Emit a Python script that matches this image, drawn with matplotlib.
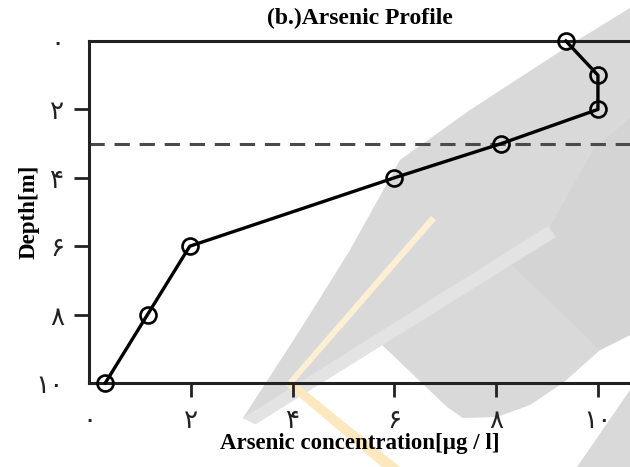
import numpy as np
import matplotlib
matplotlib.use('Agg')
import matplotlib.pyplot as plt
from matplotlib.patches import Polygon

# data
depth = [0, 1, 2, 3, 4, 6, 8, 10]
arsenic = [9.37, 10.0, 10.0, 8.1, 6.0, 1.98, 1.15, 0.32]
limit_depth = 3
x_ticks = [0, 2, 4, 6, 8, 10]
y_ticks = [0, 2, 4, 6, 8, 10]
fa_digits = ['۰', '۲', '۴', '۶', '۸', '۱۰']

W, H = 630, 467
fig = plt.figure(figsize=(W / 100, H / 100), dpi=100)

def px(pts):
    return [(x / W, 1 - y / H) for x, y in pts]

# watermark behind the chart
wm = [
    ([(243, 418), (300, 330), (350, 250), (400, 160), (470, 110), (573, 43), (630, 8),
      (630, 335), (600, 350), (563, 383), (530, 405), (497, 417), (463, 418),
      (447, 407), (380, 343), (255, 424)], '#d9d9d9'),
    ([(550, 227), (593, 150), (630, 118), (630, 335), (600, 350), (510, 263)], '#d4d4d4'),
    ([(548, 226), (556, 237), (256, 424), (243, 418)], '#e3e3e3'),
    ([(577, 467), (630, 390), (630, 467)], '#d9d9d9'),
    ([(431, 216), (436, 220), (293, 384), (288, 381)], '#fcefd4'),
    ([(285, 385), (296, 383), (400, 467), (382, 467)], '#fbe8bf'),
]
for pts, c in wm:
    fig.add_artist(Polygon(px(pts), closed=True, transform=fig.transFigure,
                           facecolor=c, edgecolor='none', zorder=-5))

ax = fig.add_axes([89 / W, 1 - 383 / H, 1 - 89 / W, (383 - 41) / H])
ax.set_facecolor('none')

ax.plot(arsenic, depth, color='black', lw=2.4, marker='o', markersize=11.5,
        markerfacecolor='none', markeredgecolor='black', markeredgewidth=1.9,
        clip_on=False, zorder=3)
ax.axhline(limit_depth, color='#4a4a4a', lw=2.2, dashes=(5, 3.2), zorder=2)

ax.set_xlim(0, 10.63)
ax.set_ylim(10, 0)

ax.set_xticks(x_ticks)
ax.set_xticklabels(fa_digits, family=['DejaVu Sans'], fontsize=19)
ax.set_yticks(y_ticks)
ax.set_yticklabels(fa_digits, family=['DejaVu Sans'], fontsize=19)
ax.tick_params(axis='x', direction='out', length=10, width=2, pad=8, colors='#222222')
ax.tick_params(axis='y', direction='out', length=11, width=2, pad=7, colors='#222222')
ax.xaxis.get_major_ticks()[0].tick1line.set_visible(False)
ax.yaxis.get_major_ticks()[0].tick1line.set_visible(False)
ax.yaxis.get_major_ticks()[-1].tick1line.set_visible(False)

for s in ['left', 'top', 'bottom']:
    ax.spines[s].set_linewidth(2.2)
    ax.spines[s].set_color('#222222')
ax.spines['right'].set_visible(False)

serif = ['Liberation Serif', 'DejaVu Serif']
ax.set_title('(b.)Arsenic Profile', family=serif, fontweight='bold', fontsize=17, pad=12)
ax.set_xlabel('Arsenic concentration[µg / l]', family=serif, fontweight='bold', fontsize=16.5)
ax.set_ylabel('Depth[m]', family=serif, fontweight='bold', fontsize=16.5)
ax.xaxis.set_label_coords(0.5, -0.145)
ax.yaxis.set_label_coords(-0.092, 0.5)

fig.savefig('out.png', dpi=100)
